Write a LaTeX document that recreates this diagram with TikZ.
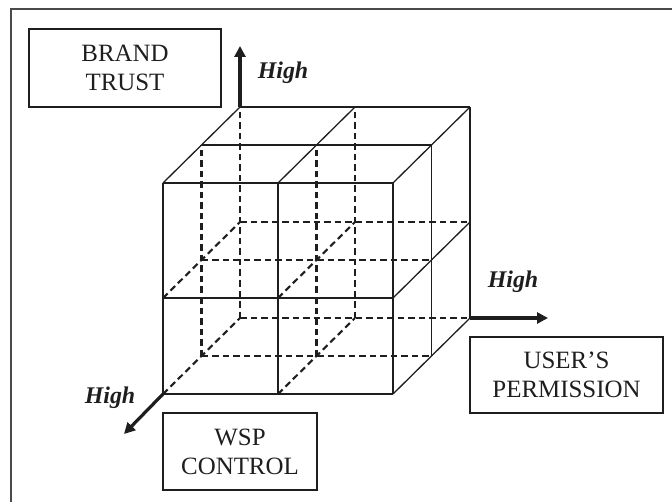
\documentclass[tikz,border=0pt]{standalone}
\usepackage{fontspec}
\setmainfont{Liberation Serif}
\usetikzlibrary{arrows.meta}
\definecolor{ink}{HTML}{1E1E1E}
\definecolor{framegray}{HTML}{4A4A4A}
\tikzset{
  edge/.style={draw=ink, line width=1.3bp},
  hidden/.style={draw=ink, line width=2.1bp, dash pattern=on 6.5bp off 4bp},
  axis/.style={draw=ink, line width=3.2bp, -{Triangle[length=11bp,width=11bp]}},
  labelbox/.style={draw=ink, line width=1.2bp, inner sep=0pt, align=center,
    font=\fontsize{25}{29}\selectfont, text=ink},
  highlabel/.style={font=\fontsize{24}{28}\selectfont\bfseries\itshape, text=ink, inner sep=0pt}
}
\begin{document}
\begin{tikzpicture}[x=1bp,y=-1bp]
\useasboundingbox (0,0) rectangle (672,502);
% outer frame (top and left edges)
\draw[framegray, line width=2bp] (11,502) -- (11,9) -- (672,9);

% grid points of the 2x2x2 cube: c-i-j-k, i to the right, j upward, k into depth
\foreach \i in {0,1,2}{
  \foreach \j/\yy in {0/394,1/298,2/183}{
    \foreach \k in {0,1,2}{
      \pgfmathsetmacro{\px}{163+115*\i+38.5*\k}
      \pgfmathsetmacro{\py}{\yy-38*\k}
      \coordinate (c-\i-\j-\k) at (\px,\py);
    }
  }
}

% hidden (interior) edges
\foreach \j/\k in {0/1,0/2,1/1,1/2}{
  \draw[hidden] (c-0-\j-\k) -- (c-2-\j-\k);
}
\foreach \i/\k in {0/1,0/2,1/1,1/2}{
  \draw[hidden] (c-\i-0-\k) -- (c-\i-2-\k);
}
\foreach \i/\j in {0/0,0/1,1/0,1/1}{
  \draw[hidden] (c-\i-\j-0) -- (c-\i-\j-2);
}

% visible edges: front, top and right faces
\foreach \j in {0,1,2}{
  \draw[edge] (c-0-\j-0) -- (c-2-\j-0);
}
\foreach \k in {1,2}{
  \draw[edge] (c-0-2-\k) -- (c-2-2-\k);
}
\foreach \i in {0,1,2}{
  \draw[edge] (c-\i-0-0) -- (c-\i-2-0);
}
\foreach \k in {1,2}{
  \draw[edge] (c-2-0-\k) -- (c-2-2-\k);
}
\foreach \i in {0,1,2}{
  \draw[edge] (c-\i-2-0) -- (c-\i-2-2);
}
\foreach \j in {0,1}{
  \draw[edge] (c-2-\j-0) -- (c-2-\j-2);
}

% axes
\coordinate (trust-tip) at (240,46);
\coordinate (perm-tip) at (548,318);
\coordinate (wsp-tip) at (124,434);
\draw[axis] (c-0-2-2) -- (trust-tip);
\draw[axis] (c-2-0-2) -- (perm-tip);
\draw[axis] (c-0-0-0) -- (wsp-tip);

\node[highlabel] (high-trust) at (283,73) {High};
\node[highlabel] (high-perm) at (513,282) {High};
\node[highlabel] (high-wsp) at (110,398) {High};

% dimension labels
\node[labelbox, minimum width=192bp, minimum height=78bp] (trust) at (125,68) {BRAND\\TRUST};
\node[labelbox, minimum width=154bp, minimum height=77bp] (wsp) at (240,451.5) {WSP\\CONTROL};
\node[labelbox, minimum width=193bp, minimum height=76bp] (perm) at (566.5,375) {USER’S\\PERMISSION};
\end{tikzpicture}
\end{document}
